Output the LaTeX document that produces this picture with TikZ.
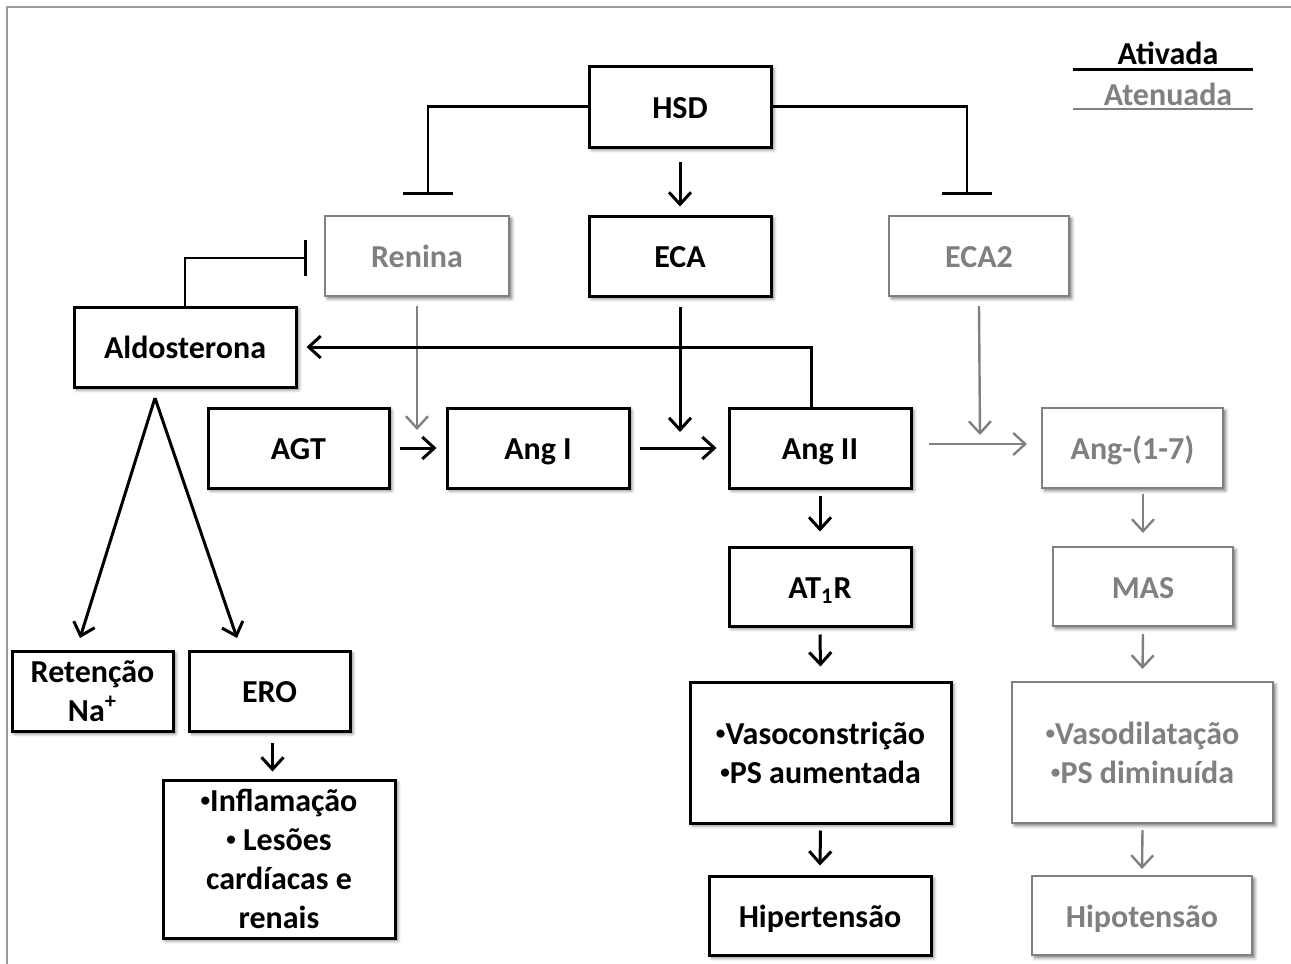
\documentclass[tikz,border=0pt]{standalone}
\usepackage{fontspec}
\usepackage{graphicx}
\setmainfont{Carlito}
\usetikzlibrary{arrows.meta,shadows.blur}
\definecolor{att}{HTML}{808080}
\newcommand\bul{\raisebox{0.3ex}{\scalebox{0.6}{•}}}
\tikzset{
  base/.style={fill=white, align=center, inner sep=0pt,
    font=\fontsize{16}{19.5}\selectfont\bfseries,
    blur shadow={shadow xshift=1.3pt, shadow yshift=-1.3pt, shadow blur radius=1.6pt, shadow opacity=55}},
  bbox/.style={base, draw=black, line width=1.5pt, text=black},
  gbox/.style={base, draw=att, line width=1pt, text=att},
  one/.style={text height=12.5pt, text depth=1pt},
  arr/.style={line width=1.5pt, -{Straight Barb[length=6pt,width=11pt,line width=1.5pt]}},
  garr/.style={draw=att, line width=1.2pt, -{Straight Barb[length=6pt,width=11pt,line width=1.2pt]}},
  inh/.style={line width=1.4pt, -{Bar[width=25pt,line width=1.5pt]}},
  inhv/.style={line width=1.4pt, -{Bar[width=18pt,line width=1.5pt]}},
}
\begin{document}
\begin{tikzpicture}[x=0.5pt,y=-0.5pt]
\useasboundingbox (0,0) rectangle (1291,964);
\draw[att!80, line width=1pt] (7,964) -- (7,7) -- (1291,7);

% legend
\node[font=\fontsize{16}{18}\selectfont\bfseries] (lgA) at (1168,53) {Ativada};
\node[font=\fontsize{16}{18}\selectfont\bfseries, text=att] (lgB) at (1168,94) {Atenuada};
\coordinate (l1a) at (1073,69); \coordinate (l1b) at (1253,69);
\coordinate (l2a) at (1073,109); \coordinate (l2b) at (1253,109);
\draw[line width=1.5pt] (l1a) -- (l1b);
\draw[att, line width=1.2pt] (l2a) -- (l2b);

% nodes
\node[bbox, one, minimum width=91pt, minimum height=40.5pt] (hsd) at (680,106.5) {HSD};
\node[bbox, one, minimum width=91pt, minimum height=40pt] (eca) at (680,256) {ECA};
\node[gbox, one, minimum width=92pt, minimum height=40pt] (ren) at (417,256) {Renina};
\node[gbox, one, minimum width=90pt, minimum height=40pt] (eca2) at (979,256) {ECA2};
\node[bbox, one, minimum width=111pt, minimum height=40pt] (aldo) at (185,347) {Aldosterona};
\node[bbox, one, minimum width=90.5pt, minimum height=40pt] (agt) at (298.5,448) {AGT};
\node[bbox, one, minimum width=91pt, minimum height=40pt] (angi) at (538,448) {Ang I};
\node[bbox, one, minimum width=91pt, minimum height=40pt] (angii) at (820,448) {Ang II};
\node[gbox, one, minimum width=90.5pt, minimum height=40pt] (ang17) at (1132.5,448) {Ang-(1-7)};
\node[bbox, one, minimum width=91pt, minimum height=39.5pt] (at1r) at (820,586.5) {AT\textsubscript{1}R};
\node[gbox, one, minimum width=90pt, minimum height=39.5pt] (mas) at (1143,586.5) {MAS};
\node[bbox, minimum width=130.5pt, minimum height=70.5pt] (vaso) at (820.5,752.5) {\bul Vasoconstrição\\\bul PS aumentada};
\node[gbox, minimum width=130.5pt, minimum height=70.5pt] (vasod) at (1142.5,752.5) {\bul Vasodilatação\\\bul PS diminuída};
\node[bbox, one, minimum width=111pt, minimum height=39.5pt] (hiper) at (820,915.5) {Hipertensão};
\node[gbox, one, minimum width=110pt, minimum height=39.5pt] (hipo) at (1142,915.5) {Hipotensão};
\node[bbox, minimum width=80.5pt, minimum height=40pt] (ret) at (92.5,691) {Retenção\\Na\textsuperscript{+}};
\node[bbox, one, minimum width=80.5pt, minimum height=40pt] (ero) at (269.5,691) {ERO};
\node[bbox, minimum width=116pt, minimum height=79pt] (infl) at (279,859) {\bul Inflamação\\\bul{} Lesões\\cardíacas e\\renais};

% coordinates
\coordinate (renbar) at (428,195);
\coordinate (eca2bar) at (967,195);
\coordinate (renend) at (417,430);
\coordinate (ecaend) at (680,432);
\coordinate (eca2end) at (980,435);
\coordinate (apex) at (155,398);
\coordinate (retend) at (80,638);
\coordinate (eroend) at (237,638);
\coordinate (aldobar) at (307,258);

% connectors
\draw[inh] (hsd.west) -| (renbar);
\draw[inh] (hsd.east) -| (eca2bar);
\draw[arr] ([yshift=-6.5pt]hsd.south) -- ([yshift=4pt]eca.north);
\draw[inhv] (aldo.north) |- (aldobar);
\draw[garr] ([yshift=-4.5pt]ren.south) -- (renend);
\draw[arr] ([yshift=-4.5pt]eca.south) -- (ecaend);
\draw[garr] ([yshift=-4.5pt]eca2.south) -- (eca2end);
\draw[arr] ([xshift=4.5pt]agt.east) -- ([xshift=-4.5pt]angi.west);
\draw[arr] ([xshift=4.5pt]angi.east) -- ([xshift=-5.5pt]angii.west);
\draw[garr] ([xshift=8pt,yshift=2pt]angii.east) -- ([xshift=-7pt,yshift=2pt]ang17.west);
\draw[arr] ([xshift=-4.5pt]angii.north) |- ([xshift=4.5pt]aldo.east);
\draw[arr] (apex) -- (retend);
\draw[arr] (apex) -- (eroend);
\draw[arr] ([xshift=1.5pt,yshift=-5pt]ero.south) -- ([xshift=1.5pt,yshift=3.5pt]ero.south |- infl.north);
\draw[arr] ([yshift=-3pt]angii.south) -- ([yshift=7pt]at1r.north);
\draw[arr] ([yshift=-3.5pt]at1r.south) -- ([yshift=7pt]vaso.north);
\draw[arr] ([yshift=-3pt]vaso.south) -- ([yshift=4.5pt]hiper.north);
\draw[garr] ([yshift=-2.5pt]mas.north |- ang17.south) -- ([yshift=6.5pt]mas.north);
\draw[garr] ([yshift=-3.5pt]mas.south) -- ([yshift=6pt]vasod.north);
\draw[garr] ([yshift=-3pt]vasod.south) -- ([yshift=3pt]hipo.north);
\end{tikzpicture}
\end{document}
